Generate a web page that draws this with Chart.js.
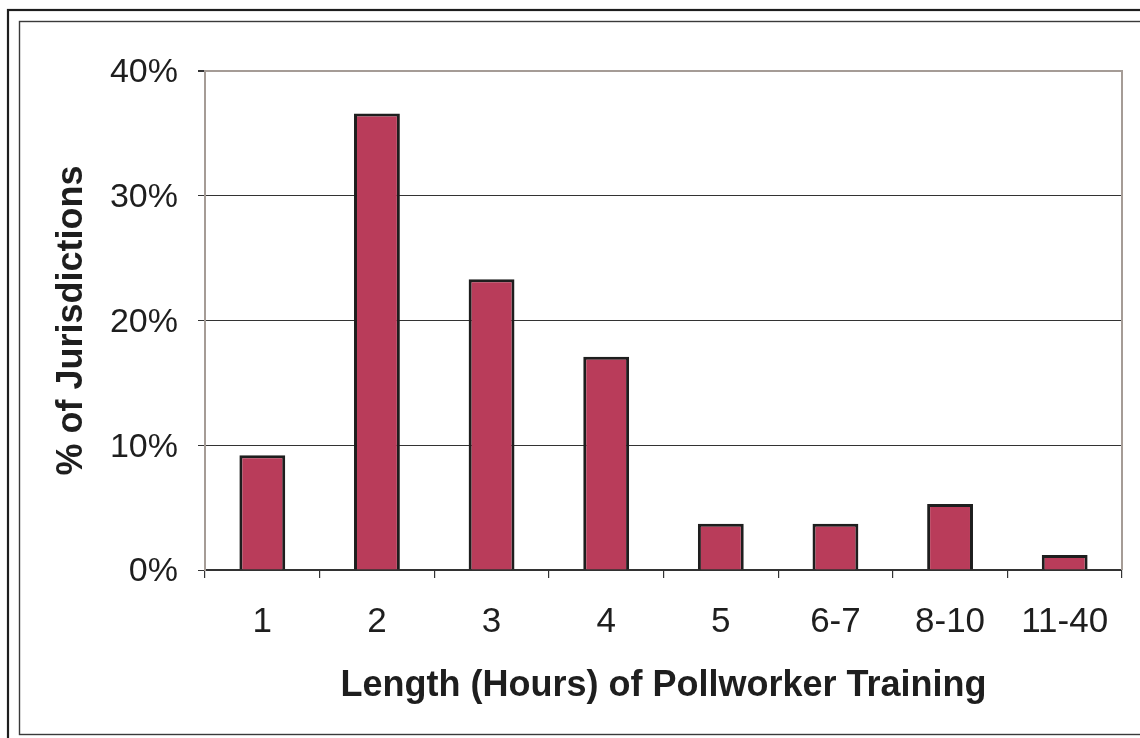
<!DOCTYPE html>
<html>
<head>
<meta charset="utf-8">
<script src="https://cdn.jsdelivr.net/npm/chart.js@4/dist/chart.umd.min.js"></script>
<style>
  html, body { margin: 0; padding: 0; background: #ffffff; }
  #wrap { width: 1140px; height: 738px; }
</style>
</head>
<body>
<div id="wrap"><canvas id="c" width="1140" height="738"></canvas></div>
<script>
// Training length buckets (hours) and share of jurisdictions in each (%)
const categories = ['1', '2', '3', '4', '5', '6-7', '8-10', '11-40'];
const shares = [9.2, 36.6, 23.3, 17.1, 3.7, 3.7, 5.3, 1.2];
const yTicks = [0, 10, 20, 30, 40];

const xTitle = 'Length (Hours) of Pollworker Training';
const yTitle = '% of Jurisdictions';

const FONT = '"Liberation Sans", Arial, Helvetica, sans-serif';
const FRAME_GRAY = '#a59c96';

// Page frame (double border) and the plot's right edge
const framePlugin = {
  id: 'frame',
  beforeDraw(chart) {
    const ctx = chart.ctx;
    ctx.save();
    ctx.fillStyle = '#ffffff';
    ctx.fillRect(0, 0, chart.width, chart.height);
    ctx.strokeStyle = '#1e1e1e';
    ctx.lineWidth = 2.2;
    ctx.strokeRect(8, 10, chart.width + 20, chart.height + 20);
    ctx.strokeStyle = '#3a3a3a';
    ctx.lineWidth = 1.4;
    ctx.strokeRect(19.5, 21.5, chart.width + 20, 713);
    ctx.restore();
  },
  afterDatasetsDraw(chart) {
    const { ctx, chartArea } = chart;
    ctx.save();
    ctx.strokeStyle = FRAME_GRAY;
    ctx.lineWidth = 2;
    ctx.beginPath();
    ctx.moveTo(chartArea.right, chartArea.top - 1);
    ctx.lineTo(chartArea.right, chartArea.bottom);
    ctx.stroke();
    ctx.restore();
  }
};

new Chart(document.getElementById('c'), {
  type: 'bar',
  data: {
    labels: categories,
    datasets: [{
      data: shares,
      backgroundColor: '#b93c5a',
      borderColor: '#1e1e1e',
      borderWidth: 3,
      barPercentage: 0.4,
      categoryPercentage: 1.0
    }]
  },
  options: {
    responsive: false,
    animation: false,
    devicePixelRatio: 1,
    layout: { padding: { top: 71, right: 18, bottom: 0, left: 0 } },
    plugins: {
      legend: { display: false },
      tooltip: { enabled: false }
    },
    scales: {
      x: {
        afterFit(scale) { scale.height = 168; },
        grid: {
          offset: true,
          drawOnChartArea: false,
          tickLength: 8,
          tickColor: '#333333',
          lineWidth: 1.2
        },
        border: { color: '#333333', width: 1.5 },
        ticks: {
          padding: 23,
          color: '#1e1e1e',
          font: { family: FONT, size: 35 }
        },
        title: {
          display: true,
          text: xTitle,
          color: '#1e1e1e',
          font: { family: FONT, size: 36, weight: 'bold' },
          padding: { top: 0, bottom: 30 }
        }
      },
      y: {
        min: 0,
        max: 40,
        afterFit(scale) { scale.width = 205; },
        afterBuildTicks(scale) { scale.ticks = yTicks.map(v => ({ value: v })); },
        grid: {
          color: c => (c.tick && c.tick.value === 40) ? FRAME_GRAY : '#333333',
          lineWidth: c => (c.tick && c.tick.value === 40) ? 2 : 1,
          tickColor: '#333333',
          tickLength: 7
        },
        border: { color: FRAME_GRAY, width: 2 },
        ticks: {
          padding: 20,
          labelOffset: 2,
          color: '#1e1e1e',
          font: { family: FONT, size: 34 },
          callback: v => v + '%'
        },
        title: {
          display: true,
          text: yTitle,
          color: '#1e1e1e',
          font: { family: FONT, size: 36, weight: 'bold' },
          padding: { top: 50, bottom: 0 }
        }
      }
    }
  },
  plugins: [framePlugin]
});
</script>
</body>
</html>
